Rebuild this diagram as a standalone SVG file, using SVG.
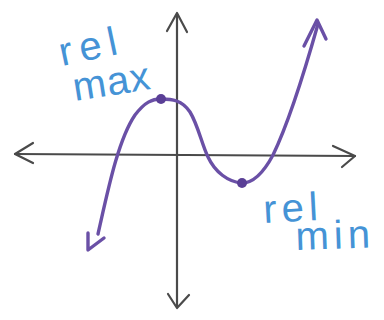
<svg xmlns="http://www.w3.org/2000/svg" width="384" height="320" viewBox="0 0 384 320">
<style>
.ax{fill:none;stroke:#4a4a4a;stroke-width:2.2;stroke-linecap:round;stroke-linejoin:round}
.cv{fill:none;stroke:#6a50a6;stroke-width:3.4;stroke-linecap:round;stroke-linejoin:round}
.pt{fill:#5a3f96}
.lb{font-family:"Liberation Sans",Arial,sans-serif;font-size:40px;fill:#4593d6;letter-spacing:5px}
</style>
<rect width="384" height="320" fill="#fff"/>
<g id="axes">
<path class="ax" d="M177 14 L177 307"/>
<path class="ax" d="M167 31 L177 13 L187 32"/>
<path class="ax" d="M168 294 L177 308 L189 295"/>
<path class="ax" d="M15 154 L355 156"/>
<path class="ax" d="M33 143 L15 154 L33 163"/>
<path class="ax" d="M333 146 L355 156 L342 167"/>
</g>
<g id="curve">
<path class="cv" d="M98 234 C108 190,118 140,135 115 C145 102,152 99,161 99 C172 99,182 100,190 112 C198 125,202 145,208 157 C215 172,228 182,242 183 C255 183,265 170,273 155 C290 120,305 70,318 24"/>
<path class="cv" d="M88 233 L88 250 L104 238"/>
<path class="cv" d="M304 46 L317 20 L326 39"/>
<circle class="pt" cx="161" cy="99" r="5"/>
<circle class="pt" cx="242" cy="183" r="5"/>
</g>
<g id="label-max">
<text class="lb" style="letter-spacing:7px" transform="translate(62 66) rotate(-12)">rel</text>
<text class="lb" style="letter-spacing:1px" transform="translate(75 101) rotate(-9)">max</text>
</g>
<g id="label-min">
<text class="lb" transform="translate(264 223) rotate(-3)">rel</text>
<text class="lb" style="letter-spacing:5px" transform="translate(296 250) rotate(-2)">min</text>
</g>
</svg>
